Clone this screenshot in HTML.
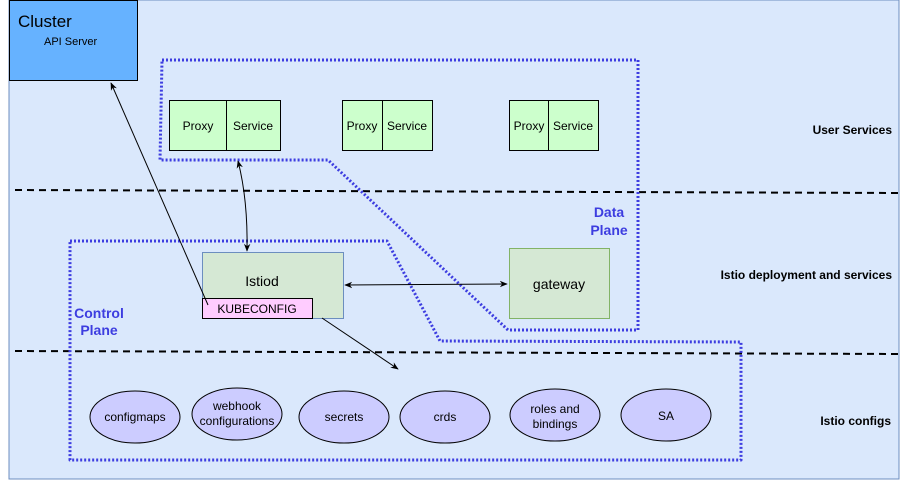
<!DOCTYPE html>
<html><head><style>
body{margin:0;background:#fff;}
svg{display:block;font-family:"Liberation Sans",Arial,sans-serif;}
</style></head><body>
<svg width="901" height="481" viewBox="0 0 901 481">
<defs>
<marker id="a" viewBox="0 0 10 10" refX="9" refY="5" markerWidth="8" markerHeight="8" orient="auto-start-reverse"><path d="M0,1 L10,5 L0,9 L3,5 z" fill="#000"/></marker>
</defs>
<rect x="9" y="0" width="890" height="479" fill="#dae8fc" stroke="#6c8ebf" stroke-width="1"/>
<rect x="9.5" y="0.5" width="128" height="80" fill="#66b2ff" stroke="#000"/>
<text x="18" y="27" font-size="17">Cluster</text>
<text x="44" y="45" font-size="11">API Server</text>
<line x1="15" y1="190" x2="899" y2="193" stroke="#000" stroke-width="2" stroke-dasharray="7,5"/>
<line x1="15" y1="351" x2="899" y2="354" stroke="#000" stroke-width="2" stroke-dasharray="7,5"/>
<path d="M162,60 L638,60 L638,330 L508,330 L328,160 L160,160 Z" fill="none" stroke="#3d3de0" stroke-width="3" stroke-dasharray="2,2" stroke-linejoin="round"/>
<path d="M70,241 L387,241 L440,341 L741,342 L741,460 L70,460 Z" fill="none" stroke="#3d3de0" stroke-width="3" stroke-dasharray="2,2" stroke-linejoin="round"/>
<g font-size="12" text-anchor="middle">
<rect x="169.5" y="100.5" width="111" height="50" fill="#ccffcc" stroke="#000"/><line x1="226.5" y1="100" x2="226.5" y2="150" stroke="#000"/>
<text x="198" y="130">Proxy</text><text x="253" y="130">Service</text>
<rect x="342.5" y="100.5" width="90" height="50" fill="#ccffcc" stroke="#000"/><line x1="382.5" y1="100" x2="382.5" y2="150" stroke="#000"/>
<text x="362" y="130">Proxy</text><text x="407" y="130">Service</text>
<rect x="509.5" y="100.5" width="89" height="50" fill="#ccffcc" stroke="#000"/><line x1="548.5" y1="100" x2="548.5" y2="150" stroke="#000"/>
<text x="529" y="130">Proxy</text><text x="573" y="130">Service</text>
</g>
<rect x="202.5" y="252.5" width="141" height="66" fill="#d5e8d4" stroke="#6c8ebf"/>
<text x="262" y="286" font-size="14" text-anchor="middle">Istiod</text>
<rect x="202.5" y="298.5" width="110" height="20" fill="#ffccff" stroke="#000"/>
<text x="257" y="313" font-size="12" text-anchor="middle">KUBECONFIG</text>
<rect x="509.5" y="248.5" width="100" height="70" fill="#d5e8d4" stroke="#82b366"/>
<text x="559" y="289" font-size="14" text-anchor="middle">gateway</text>
<path d="M208,305 Q180,240 111,83" fill="none" stroke="#000" marker-end="url(#a)"/>
<path d="M247,251 Q248,200 238,161" fill="none" stroke="#000" marker-start="url(#a)" marker-end="url(#a)"/>
<line x1="345" y1="285" x2="507" y2="284" stroke="#000" marker-start="url(#a)" marker-end="url(#a)"/>
<line x1="322" y1="318" x2="398" y2="369" stroke="#000" marker-end="url(#a)"/>
<g fill="#ccccff" stroke="#000" font-size="12" text-anchor="middle">
<ellipse cx="135" cy="417" rx="45" ry="26"/><ellipse cx="237" cy="414" rx="45" ry="26"/>
<ellipse cx="344" cy="417" rx="45" ry="26"/><ellipse cx="445" cy="417" rx="45" ry="26"/>
<ellipse cx="555" cy="415" rx="45" ry="26"/><ellipse cx="666" cy="415" rx="45" ry="26"/>
</g>
<g font-size="12" text-anchor="middle" fill="#000">
<text x="135" y="421">configmaps</text>
<text x="237" y="410">webhook</text><text x="237" y="425">configurations</text>
<text x="344" y="421">secrets</text><text x="445" y="421">crds</text>
<text x="555" y="413">roles and</text><text x="555" y="428">bindings</text>
<text x="666" y="420">SA</text>
</g>
<g font-size="12" font-weight="bold" text-anchor="end">
<text x="892" y="134">User Services</text>
<text x="892" y="279">Istio deployment and services</text>
<text x="891" y="425">Istio configs</text>
</g>
<g font-size="14" font-weight="bold" fill="#3d3de0" text-anchor="middle">
<text x="609" y="217">Data</text><text x="609" y="235">Plane</text>
<text x="99" y="318">Control</text><text x="99" y="335">Plane</text>
</g>
</svg>
</body></html>
